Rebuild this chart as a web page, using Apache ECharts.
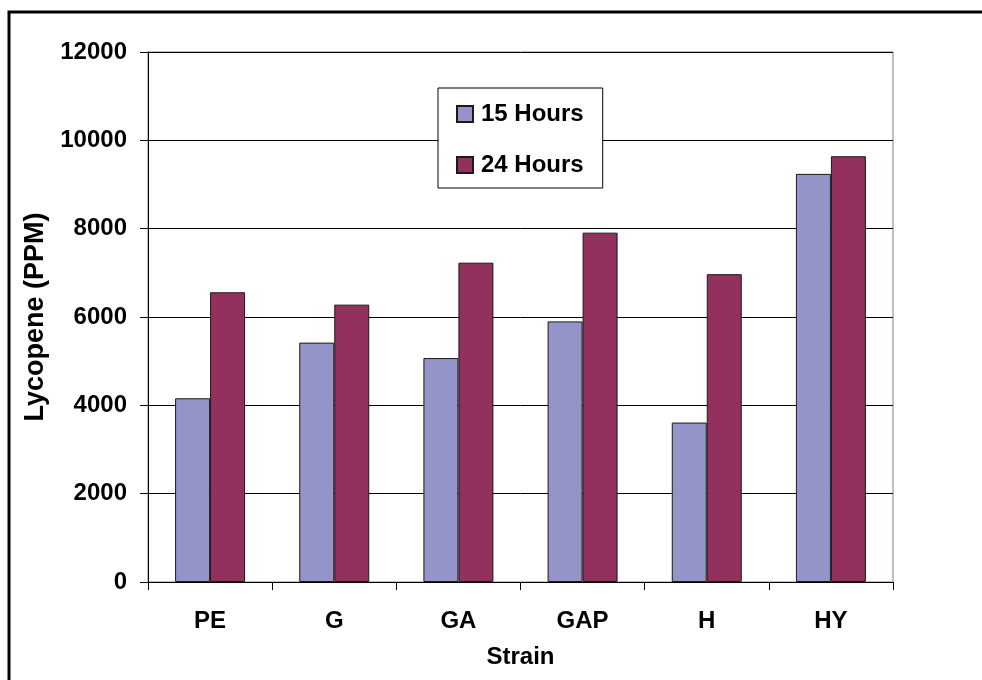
<!DOCTYPE html>
<html>
<head>
<meta charset="utf-8">
<script src="https://cdn.jsdelivr.net/npm/echarts@6/dist/echarts.min.js"></script>
<style>
html,body{margin:0;padding:0;background:#fff;}
#c{width:982px;height:680px;}
</style>
</head>
<body>
<div id="c"></div>
<script>
const categories = ['PE', 'G', 'GA', 'GAP', 'H', 'HY'];
const hours15 = [4160, 5420, 5070, 5900, 3610, 9240];
const hours24 = [6560, 6280, 7230, 7910, 6970, 9640];
const seriesNames = ['15 Hours', '24 Hours'];
const yTicks = { min: 0, max: 12000, interval: 2000 };

const FONT = '"Liberation Sans", Arial, sans-serif';
const chart = echarts.init(document.getElementById('c'), null, { renderer: 'canvas' });
chart.setOption({
  backgroundColor: '#fff',
  animation: false,
  textStyle: { fontFamily: FONT },
  graphic: [{
    type: 'rect',
    shape: { x: 9, y: 12, width: 990, height: 700 },
    style: { fill: 'none', stroke: '#000', lineWidth: 3 },
    silent: true, z: 100
  }],
  grid: { left: 148, right: 89, top: 52, bottom: 98, show: true, borderColor: '#808080', borderWidth: 1 },
  legend: {
    orient: 'vertical',
    left: 438, top: 88,
    padding: [13, 19, 10, 18],
    itemGap: 25,
    itemWidth: 16, itemHeight: 16,
    borderColor: '#000', borderWidth: 1,
    backgroundColor: '#fff',
    icon: 'rect',
    textStyle: { fontFamily: FONT, fontWeight: 'bold', fontSize: 24, color: '#000', lineHeight: 26, padding: [0, 0, 0, 3] },
    data: seriesNames
  },
  xAxis: {
    type: 'category',
    data: categories,
    name: 'Strain',
    nameLocation: 'middle',
    nameGap: 63,
    nameTextStyle: { fontFamily: FONT, fontWeight: 'bold', fontSize: 24, color: '#000' },
    axisLine: { lineStyle: { color: '#000', width: 1 } },
    axisTick: { show: true, length: 8, lineStyle: { color: '#000' } },
    axisLabel: { fontFamily: FONT, fontWeight: 'bold', fontSize: 24, color: '#000', margin: 27 },
    splitLine: { show: false }
  },
  yAxis: {
    type: 'value',
    min: yTicks.min, max: yTicks.max, interval: yTicks.interval,
    name: 'Lycopene (PPM)',
    nameLocation: 'middle',
    nameRotate: 90,
    nameGap: 84,
    nameTextStyle: { fontFamily: FONT, fontWeight: 'bold', fontSize: 27, color: '#000' },
    axisLine: { show: true, lineStyle: { color: '#000', width: 1 } },
    axisTick: { show: true, length: 8, lineStyle: { color: '#000' } },
    axisLabel: { fontFamily: FONT, fontWeight: 'bold', fontSize: 24, color: '#000', margin: 21, formatter: function (v) { return String(v); } },
    splitLine: { show: true, lineStyle: { color: '#000', width: 1 } }
  },
  series: [
    {
      name: seriesNames[0], type: 'bar', data: hours15,
      barWidth: 35, barGap: '0%',
      itemStyle: { color: '#9494C8', borderColor: '#1a1a1a', borderWidth: 1 }
    },
    {
      name: seriesNames[1], type: 'bar', data: hours24,
      barWidth: 35, barGap: '0%',
      itemStyle: { color: '#92305E', borderColor: '#1a1a1a', borderWidth: 1 }
    }
  ]
});
</script>
</body>
</html>
